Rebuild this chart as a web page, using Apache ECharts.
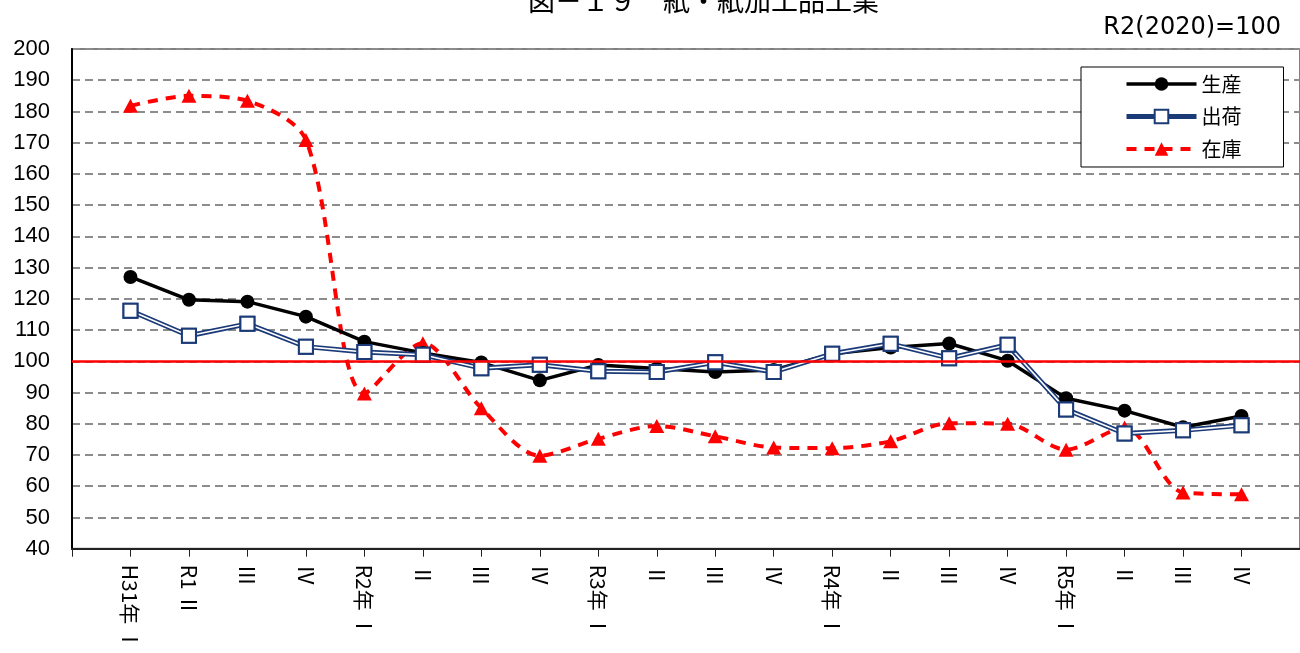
<!DOCTYPE html>
<html>
<head>
<meta charset="utf-8">
<script src="https://cdn.jsdelivr.net/npm/echarts@6/dist/echarts.min.js"></script>
<style>
html,body{margin:0;padding:0;background:#fff;}
#chart{width:1300px;height:653px;}
</style>
</head>
<body>
<div id="chart"></div>
<script>
const categories = ['H31年 Ⅰ','R1 Ⅱ','Ⅲ','Ⅳ','R2年 Ⅰ','Ⅱ','Ⅲ','Ⅳ','R3年 Ⅰ','Ⅱ','Ⅲ','Ⅳ','R4年 Ⅰ','Ⅱ','Ⅲ','Ⅳ','R5年 Ⅰ','Ⅱ','Ⅲ','Ⅳ'];
const production = [127.0,119.7,119.1,114.3,106.3,102.7,99.6,93.9,98.8,97.7,96.6,97.2,102.4,104.4,105.7,100.2,88.2,84.2,78.9,82.5];
const shipments  = [116.2,108.2,112.0,104.7,103.0,102.1,97.8,98.9,96.8,96.6,99.7,96.6,102.4,105.6,101.0,105.3,84.6,76.9,77.9,79.5];
const inventory  = [181.8,185.0,183.4,170.9,89.7,105.8,85.0,69.8,75.2,79.3,76.0,72.4,72.2,74.4,80.2,80.0,71.7,78.8,58.0,57.4];
const yTicks = {min: 40, max: 200, interval: 10};
const baseLine = 100;

const pad = a => ['-', ...a, '-'];
const cats = ['', ...categories, ''];
const navy = '#1b3a78';

const chart = echarts.init(document.getElementById('chart'));
chart.setOption({
  animation: false,
  backgroundColor: '#fff',
  title: [
    {text: '図－１９　紙・紙加工品工業', left: 523, top: -18,
     textStyle: {fontSize: 27, fontWeight: 'normal', color: '#000', fontFamily: 'Noto Sans CJK JP'}},
    {text: 'R2(2020)=100', right: 14, top: 11,
     textStyle: {fontSize: 24, fontWeight: 'normal', color: '#000', fontFamily: 'DejaVu Sans'}}
  ],
  legend: {
    data: ['生産', '出荷', '在庫'],
    orient: 'vertical',
    left: 1081, top: 67,
    padding: [7, 42, 8, 43],
    itemWidth: 70, itemHeight: 17, itemGap: 12.5,
    lineStyle: {width: 'inherit'},
    backgroundColor: '#fff', borderColor: '#000', borderWidth: 1, borderRadius: 0,
    textStyle: {fontSize: 20, color: '#000', fontFamily: 'Noto Sans CJK JP'}
  },
  grid: {left: 72, right: 0, top: 49, bottom: 104, show: true, borderColor: '#808080', borderWidth: 2, backgroundColor: 'transparent'},
  xAxis: {
    type: 'category', data: cats, boundaryGap: false,
    axisLine: {lineStyle: {color: '#222', width: 2}},
    axisTick: {show: true, interval: 0, length: 8, lineStyle: {color: '#222', width: 1}},
    axisLabel: {interval: 0, rotate: -90, margin: 16, fontSize: 21, color: '#000', fontFamily: 'Noto Sans CJK JP'},
    splitLine: {show: false}
  },
  yAxis: {
    type: 'value', min: yTicks.min, max: yTicks.max, interval: yTicks.interval,
    axisLine: {show: true, lineStyle: {color: '#000', width: 2}},
    axisTick: {show: false},
    axisLabel: {fontSize: 22, color: '#000', margin: 22, fontFamily: 'Liberation Sans'},
    splitLine: {show: true, lineStyle: {color: '#8c8c8c', width: 2, type: [8, 5]}}
  },
  series: [
    {
      name: '在庫', type: 'line', data: pad(inventory), smooth: 0.3,
      symbol: 'triangle', symbolSize: [15, 14],
      lineStyle: {color: '#ff0000', width: 4, type: [10, 8]},
      itemStyle: {color: '#ff0000'},
      markLine: {
        silent: true, symbol: 'none', label: {show: false},
        lineStyle: {color: '#ff0000', width: 2.5, type: 'solid'},
        data: [{yAxis: baseLine}]
      }
    },
    {
      name: '生産', type: 'line', data: pad(production),
      symbol: 'circle', symbolSize: 14,
      lineStyle: {color: '#000', width: 3.5},
      itemStyle: {color: '#000'}
    },
    {
      name: '出荷', type: 'line', data: pad(shipments),
      symbol: 'rect', symbolSize: 14,
      lineStyle: {color: navy, width: 5},
      itemStyle: {color: '#fff', borderColor: navy, borderWidth: 2}
    },
    {
      name: '出荷', type: 'line', data: pad(shipments),
      showSymbol: false, symbol: 'none',
      lineStyle: {color: '#fff', width: 1.6},
      itemStyle: {color: '#fff'}
    },
    {
      name: '出荷', type: 'line', data: pad(shipments),
      symbol: 'rect', symbolSize: 14,
      lineStyle: {color: navy, width: 0, opacity: 0},
      itemStyle: {color: '#fff', borderColor: navy, borderWidth: 2}
    }
  ]
});
</script>
</body>
</html>
